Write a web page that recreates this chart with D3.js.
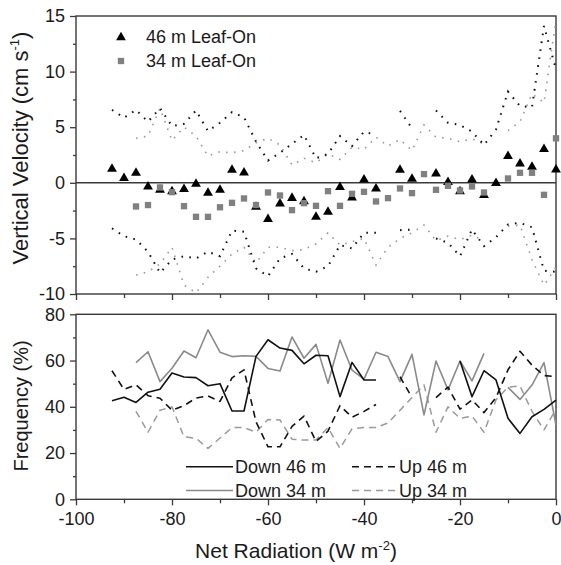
<!DOCTYPE html>
<html><head><meta charset="utf-8">
<script src="https://cdn.jsdelivr.net/npm/d3@7"></script>
<style>body{margin:0;background:#fff}svg{display:block}text{font-family:"Liberation Sans",Arial,Helvetica,sans-serif;fill:#1a1a1a}</style>
</head><body><svg id="c" width="561" height="565"></svg>
<script>
// Net radiation bins (W m-2)
const netRad = [-92.5,-90,-87.5,-85,-82.5,-80,-77.5,-75,-72.5,-70,-67.5,-65,-62.5,-60,-57.5,-55,-52.5,-50,-47.5,-45,-42.5,-40,-37.5,-35,-32.5,-30,-27.5,-25,-22.5,-20,-17.5,-15,-12.5,-10,-7.5,-5,-2.5,0];
// Mean vertical velocity (cm s-1)
const mean46 = [1.32,0.48,0.96,-0.27,-0.57,-0.7,-0.5,-0.03,-0.84,-0.57,1.23,0.99,-2.1,-3.2,-1.8,-1.3,-1.6,-3.0,-2.55,-0.33,-1.26,0.36,-0.45,null,1.23,0.42,null,0.9,0.12,-0.7,0.36,-1.05,0.03,2.46,1.8,1.5,3.1,1.26];
const mean34 = [null,null,-2.13,-2.0,-0.42,-0.84,-2.1,-3.06,-3.06,-2.2,-1.8,-1.41,-2.0,-0.87,-1.14,-2.46,-1.83,-2.07,-0.75,-2.07,-0.99,-0.81,-1.68,-1.38,-0.51,-0.93,0.78,-0.63,-0.27,-0.69,-0.33,-0.87,null,0.39,0.9,0.9,-1.08,4.0];
// Upper / lower bounds (dotted)
const upper46 = [6.56,5.85,6.55,5.5,6.7,5.1,5.3,6.5,4.65,5.4,6.35,5.9,3.7,2.0,2.7,3.5,4.3,2.2,2.6,4.2,3.3,4.6,4.3,null,6.47,4.9,null,6.5,5.4,5.2,4.6,3.4,4.8,8.2,6.9,6.8,14.1,10.2];
const upper34 = [null,null,4.0,4.2,6.7,3.8,5.0,4.2,2.4,2.8,2.7,2.9,3.6,4.0,3.4,1.6,2.2,1.8,2.6,2.1,3.2,3.0,4.1,3.3,3.9,2.9,5.2,4.1,4.0,3.7,3.95,3.5,null,4.7,5.5,8.0,7.2,14.7];
const lower46 = [-4.1,-4.8,-5.1,-6.2,-8.1,-6.9,-6.6,-6.8,-6.2,-6.6,-4.3,-4.4,-7.7,-8.4,-6.8,-6.4,-7.7,-8.0,-7.5,-5.6,-5.9,-4.5,-4.5,null,-4.26,-4.2,null,-5.0,-5.4,-6.6,-4.2,-5.7,-4.9,-3.75,-3.6,-4.0,-7.9,-8.0];
const lower34 = [null,null,-8.3,-8.0,-7.3,-5.8,-9.2,-9.9,-8.5,-7.5,-6.4,-5.8,-7.2,-5.8,-5.8,-6.1,-6.0,-5.5,-4.5,-5.6,-5.3,-5.0,-7.4,-5.8,-5.0,-4.5,-3.8,-5.2,-4.8,-5.1,-4.7,-5.2,null,-3.9,-3.8,-6.9,-9.2,-7.6];
// Frequency (%)
const down46 = [42.6,44.1,41.9,46.3,47.6,54.6,52.9,52.6,49.1,50.0,38.2,38.2,61.8,69.0,65.4,64.4,58.6,62.3,62.1,44.4,59.2,51.6,51.6,null,null,null,null,null,null,59.8,44.4,55.6,51.6,35.0,28.5,35.7,38.9,42.9];
const down34 = [null,null,59.1,63.8,50.9,56.7,64.1,61.2,73.3,63.6,61.7,62.1,61.8,56.6,55.5,70.2,61.0,67.0,50.2,68.9,55.9,52.0,63.6,61.7,50.9,62.7,36.5,59.8,47.3,59.8,51.2,63.1,null,48.4,43.2,49.4,59.1,32.1];
const up46 = [55.6,47.5,49.5,44.8,43.7,38.5,40.5,43.8,44.7,42.3,52.5,56.0,33.5,22.7,22.7,31.5,36.0,25.0,29.5,40.5,35.5,38.0,41.0,null,53.0,44.0,null,44.0,48.5,39.0,43.0,37.5,44.0,56.0,64.0,58.0,53.5,53.0];
const up34 = [null,null,38,29,38.5,40,27,26.4,22,26.5,31,31,29,34.5,34.3,26,25.6,25.6,31,22,30.5,31,31,33,38.5,44,49.5,29,40,35,36,29,43,48.5,49,38,30,39];
// Ticks
const xTicks = [-100,-80,-60,-40,-20,0];
const xMinor = [-90,-70,-50,-30,-10];
const vTicks = [-10,-5,0,5,10,15];
const vMinor = [-7.5,-2.5,2.5,7.5,12.5];
const fTicks = [0,20,40,60,80];
const fMinor = [10,30,50,70];

const svg = d3.select('#c');
const L = 76, R = 556;
const x = d3.scaleLinear().domain([-100,0]).range([L,R]);
const yV = d3.scaleLinear().domain([-10,15]).range([294,16]);
const yF = d3.scaleLinear().domain([0,80]).range([499.3,314.3]);
const axCol = '#3a3a3a';
const fs = 18;

function styleAxis(g){
  g.select('.domain').remove();
  g.selectAll('line').attr('stroke',axCol).attr('stroke-width',1.3);
  g.selectAll('text').attr('font-size',fs).attr('fill','#1a1a1a').style('font-family','"Liberation Sans",Arial,sans-serif');
}
const fmt = d => String(d);

// Top panel axes
svg.append('g').attr('transform',`translate(${L},0)`).call(d3.axisLeft(yV).tickValues(vTicks).tickSize(6).tickPadding(5).tickFormat(fmt)).call(styleAxis);
svg.append('g').attr('transform',`translate(${L},0)`).call(d3.axisLeft(yV).tickValues(vMinor).tickSize(3).tickFormat('')).call(styleAxis);
svg.append('g').attr('transform',`translate(0,294)`).call(d3.axisBottom(x).tickValues(xTicks).tickSize(6).tickFormat('')).call(styleAxis);
svg.append('g').attr('transform',`translate(0,294)`).call(d3.axisBottom(x).tickValues(xMinor).tickSize(4).tickFormat('')).call(styleAxis);
// Bottom panel axes
svg.append('g').attr('transform',`translate(${L},0)`).call(d3.axisLeft(yF).tickValues(fTicks).tickSize(6).tickPadding(5).tickFormat(fmt)).call(styleAxis);
svg.append('g').attr('transform',`translate(${L},0)`).call(d3.axisLeft(yF).tickValues(fMinor).tickSize(3).tickFormat('')).call(styleAxis);
svg.append('g').attr('transform',`translate(0,499.3)`).call(d3.axisBottom(x).tickValues(xTicks).tickSize(6).tickPadding(7).tickFormat(fmt)).call(styleAxis);
svg.append('g').attr('transform',`translate(0,499.3)`).call(d3.axisBottom(x).tickValues(xMinor).tickSize(4).tickFormat('')).call(styleAxis);

// Frames
svg.append('rect').attr('x',L).attr('y',yV(15)).attr('width',R-L).attr('height',yV(-10)-yV(15)).attr('fill','none').attr('stroke',axCol).attr('stroke-width',1.4);
svg.append('rect').attr('x',L).attr('y',yF(80)).attr('width',R-L).attr('height',yF(0)-yF(80)).attr('fill','none').attr('stroke',axCol).attr('stroke-width',1.4);
// zero line
svg.append('line').attr('x1',L).attr('x2',R).attr('y1',yV(0)).attr('y2',yV(0)).attr('stroke',axCol).attr('stroke-width',1.4);

// Dotted bounds
function lineGen(y){ return d3.line().defined(d=>d[1]!=null).x(d=>x(d[0])).y(d=>y(d[1])); }
const pairs = arr => netRad.map((v,i)=>[v,arr[i]]);
const dotted = [
  {d:upper34,c:'#9a9a9a',w:1.6},{d:lower34,c:'#9a9a9a',w:1.6},
  {d:upper46,c:'#111',w:2},{d:lower46,c:'#111',w:2}
];
dotted.forEach(s=>{
  svg.append('path').attr('d',lineGen(yV)(pairs(s.d))).attr('fill','none')
    .attr('stroke',s.c).attr('stroke-width',s.w).attr('stroke-dasharray','1.6,6.4');
});

// Markers
const tri = d3.symbol().type(d3.symbolTriangle).size(42);
const sq = d3.symbol().type(d3.symbolSquare).size(40);
svg.append('g').selectAll('path').data(pairs(mean46).filter(d=>d[1]!=null)).join('path')
  .attr('d',tri).attr('transform',d=>`translate(${x(d[0])},${yV(d[1])+0.8})`).attr('fill','#000');
svg.append('g').selectAll('path').data(pairs(mean34).filter(d=>d[1]!=null)).join('path')
  .attr('d',sq).attr('transform',d=>`translate(${x(d[0])},${yV(d[1])})`).attr('fill','#808080');

// Top legend
svg.append('path').attr('d',tri).attr('transform','translate(121,37.5)').attr('fill','#000');
svg.append('path').attr('d',sq).attr('transform','translate(121,61)').attr('fill','#808080');
svg.append('text').attr('x',146).attr('y',43).attr('font-size',fs).text('46 m Leaf-On');
svg.append('text').attr('x',146).attr('y',67).attr('font-size',fs).text('34 m Leaf-On');

// Frequency lines
const freq = [
  {d:up34,c:'#9a9a9a',dash:'7,5',w:1.5},
  {d:down34,c:'#8a8a8a',dash:null,w:1.6},
  {d:up46,c:'#111',dash:'7,5',w:1.6},
  {d:down46,c:'#111',dash:null,w:1.6}
];
freq.forEach(s=>{
  const p = svg.append('path').attr('d',lineGen(yF)(pairs(s.d))).attr('fill','none')
    .attr('stroke',s.c).attr('stroke-width',s.w).attr('stroke-linejoin','round');
  if(s.dash) p.attr('stroke-dasharray',s.dash);
});

// Bottom legend
const leg = [
  {x1:186,x2:233,y:466.7,c:'#111',dash:null,t:'Down 46 m',tx:235,ty:473},
  {x1:186,x2:233,y:490.5,c:'#8a8a8a',dash:null,t:'Down 34 m',tx:235,ty:497},
  {x1:352,x2:397,y:466.7,c:'#111',dash:'7,5',t:'Up 46 m',tx:399,ty:473},
  {x1:352,x2:397,y:490.5,c:'#9a9a9a',dash:'7,5',t:'Up 34 m',tx:399,ty:497}
];
leg.forEach(l=>{
  const ln = svg.append('line').attr('x1',l.x1).attr('x2',l.x2).attr('y1',l.y).attr('y2',l.y).attr('stroke',l.c).attr('stroke-width',1.6);
  if(l.dash) ln.attr('stroke-dasharray',l.dash);
  svg.append('text').attr('x',l.tx).attr('y',l.ty).attr('font-size',fs).text(l.t);
});

// Axis titles
const t1 = svg.append('text').attr('transform','translate(28,148) rotate(-90)').attr('text-anchor','middle').attr('font-size',22);
t1.append('tspan').text('Vertical Velocity (cm s');
t1.append('tspan').attr('font-size',13).attr('dy',-9).text('-1');
t1.append('tspan').attr('dy',9).text(')');
svg.append('text').attr('transform','translate(28,406) rotate(-90)').attr('text-anchor','middle').attr('font-size',20).text('Frequency (%)');
const t3 = svg.append('text').attr('x',296).attr('y',558).attr('text-anchor','middle').attr('font-size',21);
t3.append('tspan').text('Net Radiation (W m');
t3.append('tspan').attr('font-size',13).attr('dy',-8).text('-2');
t3.append('tspan').attr('dy',8).text(')');
</script></body></html>
